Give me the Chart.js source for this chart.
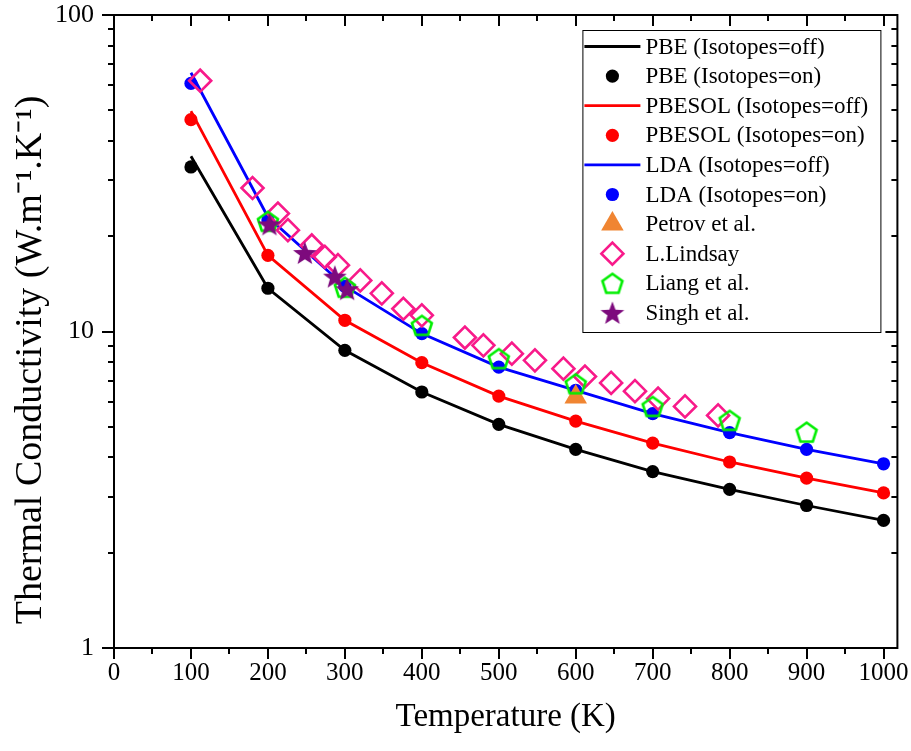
<!DOCTYPE html>
<html><head><meta charset="utf-8">
<script src="https://cdn.jsdelivr.net/npm/chart.js@4.4.0/dist/chart.umd.min.js"></script>
<style>html,body{margin:0;padding:0;background:#fff;}#wrap{width:911px;height:751px;}</style>
</head><body><div id="wrap"><canvas id="c" width="911" height="751"></canvas></div>
<script>
// ---------- data ----------
const temps = [100, 200, 300, 400, 500, 600, 700, 800, 900, 1000];
const pbeOff    = [35.8, 13.7, 8.72, 6.44, 5.09, 4.24, 3.61, 3.17, 2.82, 2.53];
const pbeOn     = [33.1, 13.7, 8.72, 6.44, 5.09, 4.24, 3.61, 3.17, 2.82, 2.53];
const pbesolOff = [49.7, 17.4, 10.85, 7.97, 6.25, 5.21, 4.44, 3.87, 3.44, 3.09];
const pbesolOn  = [46.7, 17.4, 10.85, 7.97, 6.25, 5.21, 4.44, 3.87, 3.44, 3.09];
const ldaOff    = [65.7, 23.0, 13.9, 9.85, 7.72, 6.52, 5.50, 4.79, 4.24, 3.82];
const ldaOn     = [60.8, 22.5, 13.9, 9.85, 7.72, 6.52, 5.50, 4.79, 4.24, 3.82];
const petrovT = [600];
const petrovK = [6.21];
const lindsayT = [112, 180, 213, 226, 257, 274, 291, 320, 348, 376, 400, 456, 480, 517, 547, 584, 612, 646, 677, 707, 742, 785];
const lindsayK = [62.0, 28.4, 23.6, 20.9, 18.7, 17.2, 16.2, 14.5, 13.2, 11.8, 11.25, 9.57, 9.04, 8.51, 8.11, 7.63, 7.21, 6.88, 6.48, 6.14, 5.80, 5.43];
const liangT = [200, 300, 400, 500, 600, 700, 800, 900];
const liangK = [22.3, 13.8, 10.46, 8.21, 6.84, 5.80, 5.24, 4.81];
const singhT = [202, 248, 287, 303];
const singhK = [21.8, 17.7, 14.9, 13.6];
const xTickLabels = [0, 100, 200, 300, 400, 500, 600, 700, 800, 900, 1000];
const yTickLabels = [1, 10, 100];

const FONT = "'Liberation Serif', 'Times New Roman', serif";
const pts = (xs, ys) => xs.map((x, i) => ({x: x, y: ys[i]}));

// ---------- custom marker shapes ----------
function pentagonPath(ctx, cx, cy, r) {
  ctx.beginPath();
  for (let i = 0; i < 5; i++) {
    const a = -Math.PI / 2 + i * 2 * Math.PI / 5;
    const px = cx + r * Math.cos(a), py = cy + r * Math.sin(a);
    if (i === 0) ctx.moveTo(px, py); else ctx.lineTo(px, py);
  }
  ctx.closePath();
}
function starPath(ctx, cx, cy, ro, ri) {
  ctx.beginPath();
  for (let i = 0; i < 10; i++) {
    const a = -Math.PI / 2 + i * Math.PI / 5;
    const r = i % 2 === 0 ? ro : ri;
    const px = cx + r * Math.cos(a), py = cy + r * Math.sin(a);
    if (i === 0) ctx.moveTo(px, py); else ctx.lineTo(px, py);
  }
  ctx.closePath();
}
function makeCanvas(size, draw) {
  const c = document.createElement('canvas');
  c.width = size; c.height = size;
  draw(c.getContext('2d'), size / 2);
  return c;
}
const pentImg = makeCanvas(26, (ctx, m) => {
  pentagonPath(ctx, m, m + 1, 10.5);
  ctx.strokeStyle = '#00ee00'; ctx.lineWidth = 2.6; ctx.lineJoin = 'miter'; ctx.stroke();
});
const starImg = makeCanvas(28, (ctx, m) => {
  starPath(ctx, m, m + 1, 12.5, 5.2);
  ctx.fillStyle = '#7d0a7d'; ctx.fill();
});

const BLACK = '#000000', RED = '#ff0000', BLUE = '#0000ff', ORANGE = '#f08532', PINK = '#f81a8a', PURPLE = '#7d0a7d';

function lineDs(label, data, color, order) {
  return {label, data: pts(temps, data), showLine: true, borderColor: color, backgroundColor: color,
    borderWidth: 2.8, pointRadius: 0, pointHoverRadius: 0, tension: 0, order, legendKind: 'line'};
}
function dotDs(label, data, color, order) {
  return {label, data: pts(temps, data), showLine: false, borderColor: color, backgroundColor: color,
    pointRadius: 6.6, pointBorderWidth: 0, pointStyle: 'circle', order, legendKind: 'circle'};
}

const datasets = [
  lineDs('PBE (Isotopes=off)', pbeOff, BLACK, 12),
  dotDs('PBE (Isotopes=on)', pbeOn, BLACK, 9),
  lineDs('PBESOL (Isotopes=off)', pbesolOff, RED, 11),
  dotDs('PBESOL (Isotopes=on)', pbesolOn, RED, 8),
  lineDs('LDA (Isotopes=off)', ldaOff, BLUE, 10),
  dotDs('LDA (Isotopes=on)', ldaOn, BLUE, 7),
  {label: 'Petrov et al.', data: pts(petrovT, petrovK), showLine: false, pointStyle: 'triangle',
    pointRadius: 13, pointBorderWidth: 0, backgroundColor: ORANGE, borderColor: ORANGE, order: 5, legendKind: 'triangle'},
  {label: 'L.Lindsay', data: pts(lindsayT, lindsayK), showLine: false, pointStyle: 'rectRot',
    pointRadius: 11, pointBorderWidth: 2.6, backgroundColor: 'rgba(0,0,0,0)', borderColor: PINK, order: 4, legendKind: 'diamond'},
  {label: 'Liang et al.', data: pts(liangT, liangK), showLine: false, pointStyle: pentImg,
    pointRadius: 10, backgroundColor: '#00ee00', borderColor: '#00ee00', order: 3, legendKind: 'pentagon'},
  {label: 'Singh et al.', data: pts(singhT, singhK), showLine: false, pointStyle: starImg,
    pointRadius: 11, backgroundColor: PURPLE, borderColor: PURPLE, order: 2, legendKind: 'star'}
];

// ---------- frame, ticks and legend plugin ----------
const framePlugin = {
  id: 'frame',
  afterDatasetsDraw(chart) {
    const {ctx, chartArea: a, scales: {x, y}} = chart;
    ctx.save();
    ctx.strokeStyle = '#000'; ctx.lineWidth = 2;
    ctx.strokeRect(a.left, a.top, a.right - a.left, a.bottom - a.top);
    const MAJ = 11, MIN = 6;
    ctx.beginPath();
    for (let v = 0; v <= 1000; v += 50) {
      const px = Math.round(x.getPixelForValue(v));
      const len = (v % 100 === 0) ? MAJ : MIN;
      ctx.moveTo(px, a.bottom); ctx.lineTo(px, a.bottom + len);
      ctx.moveTo(px, a.top); ctx.lineTo(px, a.top + len);
    }
    for (let d = 1; d <= 10; d *= 10) {
      for (let m = 1; m <= 10; m++) {
        const v = d * m;
        if (v > 100) continue;
        const py = Math.round(y.getPixelForValue(v));
        const len = (m === 1 || m === 10) ? MAJ + 1 : MIN;
        ctx.moveTo(a.left, py); ctx.lineTo(a.left - len, py);
        ctx.moveTo(a.right, py); ctx.lineTo(a.right - len, py);
      }
    }
    ctx.stroke();

    // legend
    const bw = 298, bh = 302;
    const bx = a.right - 17 - bw, by = a.top + 15;
    ctx.lineWidth = 1;
    ctx.fillStyle = '#fff';
    ctx.fillRect(bx, by, bw, bh);
    ctx.strokeRect(bx + 0.5, by + 0.5, bw, bh);
    ctx.font = '23px ' + FONT;
    ctx.textBaseline = 'middle';
    ctx.textAlign = 'left';
    chart.data.datasets.forEach((ds, i) => {
      const cy = by + 16.5 + i * 29.6;
      const cx = bx + 30;
      const col = ds.borderColor;
      ctx.save();
      switch (ds.legendKind) {
        case 'line':
          ctx.strokeStyle = col; ctx.lineWidth = 2.8;
          ctx.beginPath(); ctx.moveTo(bx + 2, cy); ctx.lineTo(bx + 58, cy); ctx.stroke(); break;
        case 'circle':
          ctx.fillStyle = col; ctx.beginPath(); ctx.arc(cx, cy, 6.6, 0, Math.PI * 2); ctx.fill(); break;
        case 'triangle': {
          const r = 13; ctx.fillStyle = ds.backgroundColor; ctx.beginPath();
          ctx.moveTo(cx, cy - r); ctx.lineTo(cx + r * 0.866, cy + r / 2); ctx.lineTo(cx - r * 0.866, cy + r / 2);
          ctx.closePath(); ctx.fill(); break; }
        case 'diamond': {
          const r = 11; ctx.strokeStyle = col; ctx.lineWidth = 2.6; ctx.beginPath();
          ctx.moveTo(cx - r, cy); ctx.lineTo(cx, cy - r); ctx.lineTo(cx + r, cy); ctx.lineTo(cx, cy + r);
          ctx.closePath(); ctx.stroke(); break; }
        case 'pentagon':
          ctx.drawImage(pentImg, cx - pentImg.width / 2, cy - pentImg.height / 2); break;
        case 'star':
          ctx.drawImage(starImg, cx - starImg.width / 2, cy - starImg.height / 2); break;
      }
      ctx.restore();
      ctx.fillStyle = '#000';
      ctx.fillText(ds.label, bx + 63, cy + 1);
    });
    ctx.restore();
  }
};

new Chart(document.getElementById('c'), {
  type: 'scatter',
  data: {datasets},
  options: {
    responsive: false,
    animation: false,
    devicePixelRatio: 1,
    layout: {padding: {top: 15, right: 13, left: 0, bottom: 0}},
    plugins: {legend: {display: false}, tooltip: {enabled: false}},
    scales: {
      x: {
        type: 'linear', min: 0, max: 1018,
        afterBuildTicks: s => { s.ticks = xTickLabels.map(v => ({value: v})); },
        afterFit: s => { s.height = 103; s.paddingLeft = 0; s.paddingRight = 0; },
        grid: {display: false, drawTicks: false},
        border: {display: false},
        ticks: {color: '#000', font: {family: FONT, size: 25}, padding: 10, maxRotation: 0, autoSkip: false,
          callback: v => String(v)},
        title: {display: true, text: 'Temperature (K)', color: '#000', font: {family: FONT, size: 33},
          padding: {top: 0, bottom: 14}}
      },
      y: {
        type: 'logarithmic', min: 1, max: 100,
        afterBuildTicks: s => { s.ticks = yTickLabels.map(v => ({value: v})); },
        afterFit: s => { s.width = 114; s.paddingTop = 0; s.paddingBottom = 0; },
        grid: {display: false, drawTicks: false},
        border: {display: false},
        ticks: {color: '#000', font: {family: FONT, size: 26}, padding: 20, autoSkip: false,
          callback: v => String(v)},
        title: {display: true, text: 'Thermal Conductivity (W.m\u207B\u00B9.K\u207B\u00B9)\u00A0\u00A0\u00A0\u00A0\u00A0\u00A0', color: '#000',
          font: {family: FONT, size: 38}, padding: {top: 8, bottom: 0}}
      }
    }
  },
  plugins: [framePlugin]
});
</script>
</body></html>
